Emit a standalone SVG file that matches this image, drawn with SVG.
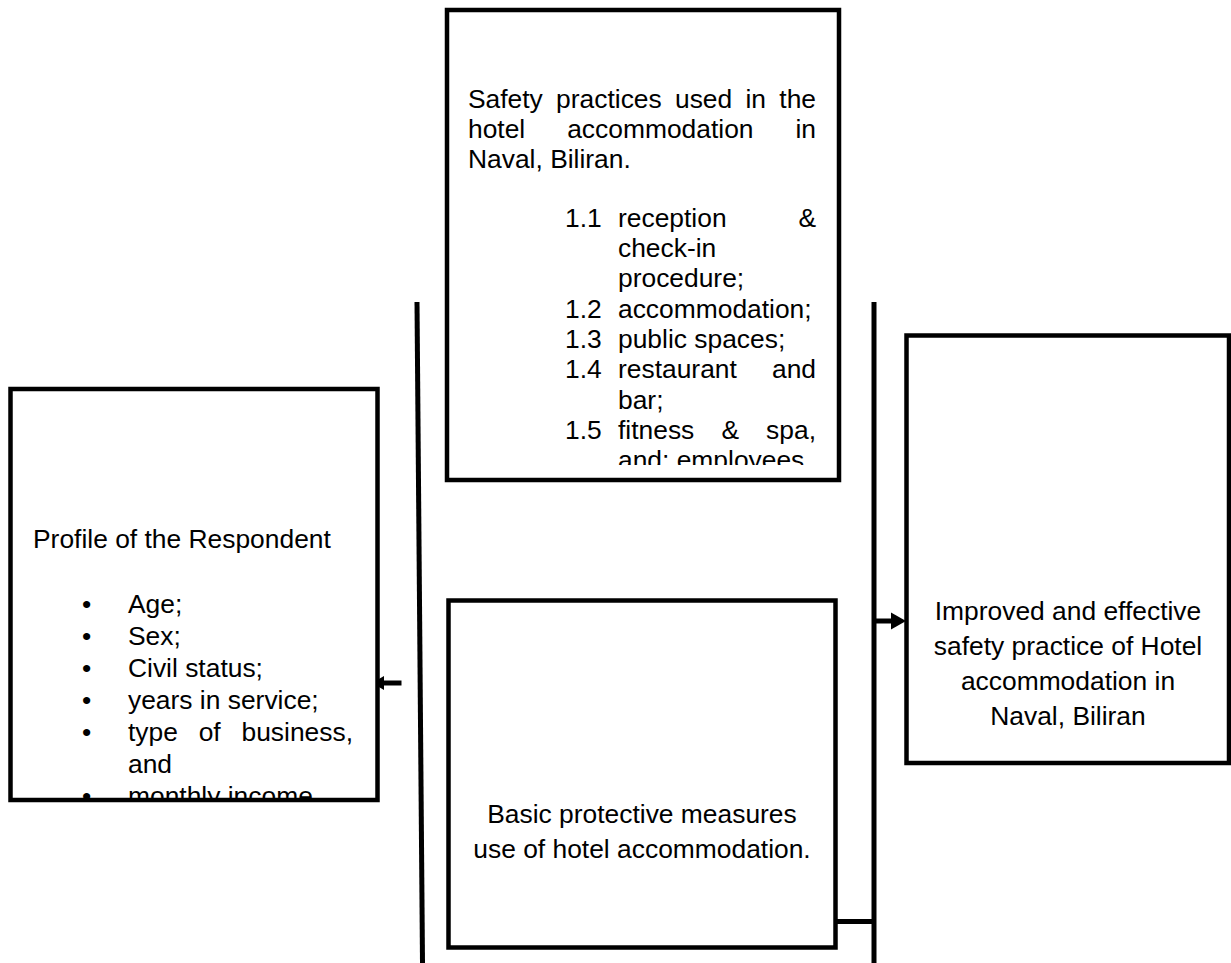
<svg xmlns="http://www.w3.org/2000/svg" width="1231" height="963" viewBox="0 0 1231 963">
<style>
.box{fill:#fff;stroke:#000;stroke-width:4.5}
.t{font-family:"Liberation Sans",Arial,sans-serif;font-size:26.4px;fill:#000}
.c{text-anchor:middle}
.e{text-anchor:end}
.ln{stroke:#000;stroke-width:5;fill:none}
</style>
<defs>
<clipPath id="clipTop"><rect x="449" y="12" width="388" height="453"/></clipPath>
<clipPath id="clipLeft"><rect x="13" y="391" width="362" height="407"/></clipPath>
</defs>
<rect width="1231" height="963" fill="#fff"/>
<g id="connectors">
<line class="ln" x1="417" y1="302" x2="422.5" y2="963"/>
<line class="ln" x1="874" y1="302" x2="874" y2="963"/>
<line class="ln" x1="876" y1="621" x2="893" y2="621"/>
<polygon points="906,621 891,612.5 891,629.5" fill="#000"/>
<line class="ln" x1="401.5" y1="683" x2="382" y2="683"/>
<polygon points="372,683 384,676 384,690" fill="#000"/>
<line class="ln" x1="837" y1="921.5" x2="874" y2="921.5"/>
</g>
<g id="node-safety">
<rect class="box" x="447" y="10" width="392" height="470"/>
<g clip-path="url(#clipTop)">
<text class="t" y="108"><tspan x="468">Safety</tspan><tspan x="556.1">practices</tspan><tspan x="675">used</tspan><tspan x="745.5">in</tspan><tspan x="779.3">the</tspan></text>
<text class="t" y="138"><tspan x="468">hotel</tspan><tspan x="567.2">accommodation</tspan></text>
<text class="t e" x="816" y="138">in</text>
<text class="t" x="468" y="168">Naval, Biliran.</text>
<text class="t" y="226.7"><tspan x="565">1.1</tspan><tspan x="618">reception</tspan></text>
<text class="t e" x="816" y="226.7">&amp;</text>
<text class="t" x="618" y="257">check-in</text>
<text class="t" x="618" y="287.3">procedure;</text>
<text class="t" y="317.6"><tspan x="565">1.2</tspan><tspan x="618">accommodation;</tspan></text>
<text class="t" y="347.9"><tspan x="565">1.3</tspan><tspan x="618">public spaces;</tspan></text>
<text class="t" y="378.2"><tspan x="565">1.4</tspan><tspan x="618">restaurant</tspan></text>
<text class="t e" x="816" y="378.2">and</text>
<text class="t" x="618" y="408.5">bar;</text>
<text class="t" y="438.8"><tspan x="565">1.5</tspan><tspan x="618">fitness</tspan><tspan x="721.4">&amp;</tspan></text>
<text class="t e" x="816" y="438.8">spa,</text>
<text class="t" x="618" y="469.1">and; employees</text>
</g>
</g>
<g id="node-profile">
<rect class="box" x="10.5" y="389" width="367" height="411"/>
<g clip-path="url(#clipLeft)">
<text class="t" x="33" y="548">Profile of the Respondent</text>
<text class="t" y="613"><tspan x="82">•</tspan><tspan x="128">Age;</tspan></text>
<text class="t" y="645"><tspan x="82">•</tspan><tspan x="128">Sex;</tspan></text>
<text class="t" y="677"><tspan x="82">•</tspan><tspan x="128">Civil status;</tspan></text>
<text class="t" y="709"><tspan x="82">•</tspan><tspan x="128">years in service;</tspan></text>
<text class="t" y="741"><tspan x="82">•</tspan><tspan x="128">type</tspan><tspan x="198.7">of</tspan></text>
<text class="t e" x="353" y="741">business,</text>
<text class="t" x="128" y="773">and</text>
<text class="t" y="805"><tspan x="82">•</tspan><tspan x="128">monthly income</tspan></text>
</g>
</g>
<g id="node-basic">
<rect class="box" x="448.5" y="600.5" width="387" height="347"/>
<text class="t c" x="642" y="823">Basic protective measures</text>
<text class="t c" x="642" y="858">use of hotel accommodation.</text>
</g>
<g id="node-improved">
<rect class="box" x="906.5" y="335.5" width="322.5" height="427.5"/>
<text class="t c" x="1068" y="620">Improved and effective</text>
<text class="t c" x="1068" y="655">safety practice of Hotel</text>
<text class="t c" x="1068" y="690">accommodation in</text>
<text class="t c" x="1068" y="725">Naval, Biliran</text>
</g>
</svg>
